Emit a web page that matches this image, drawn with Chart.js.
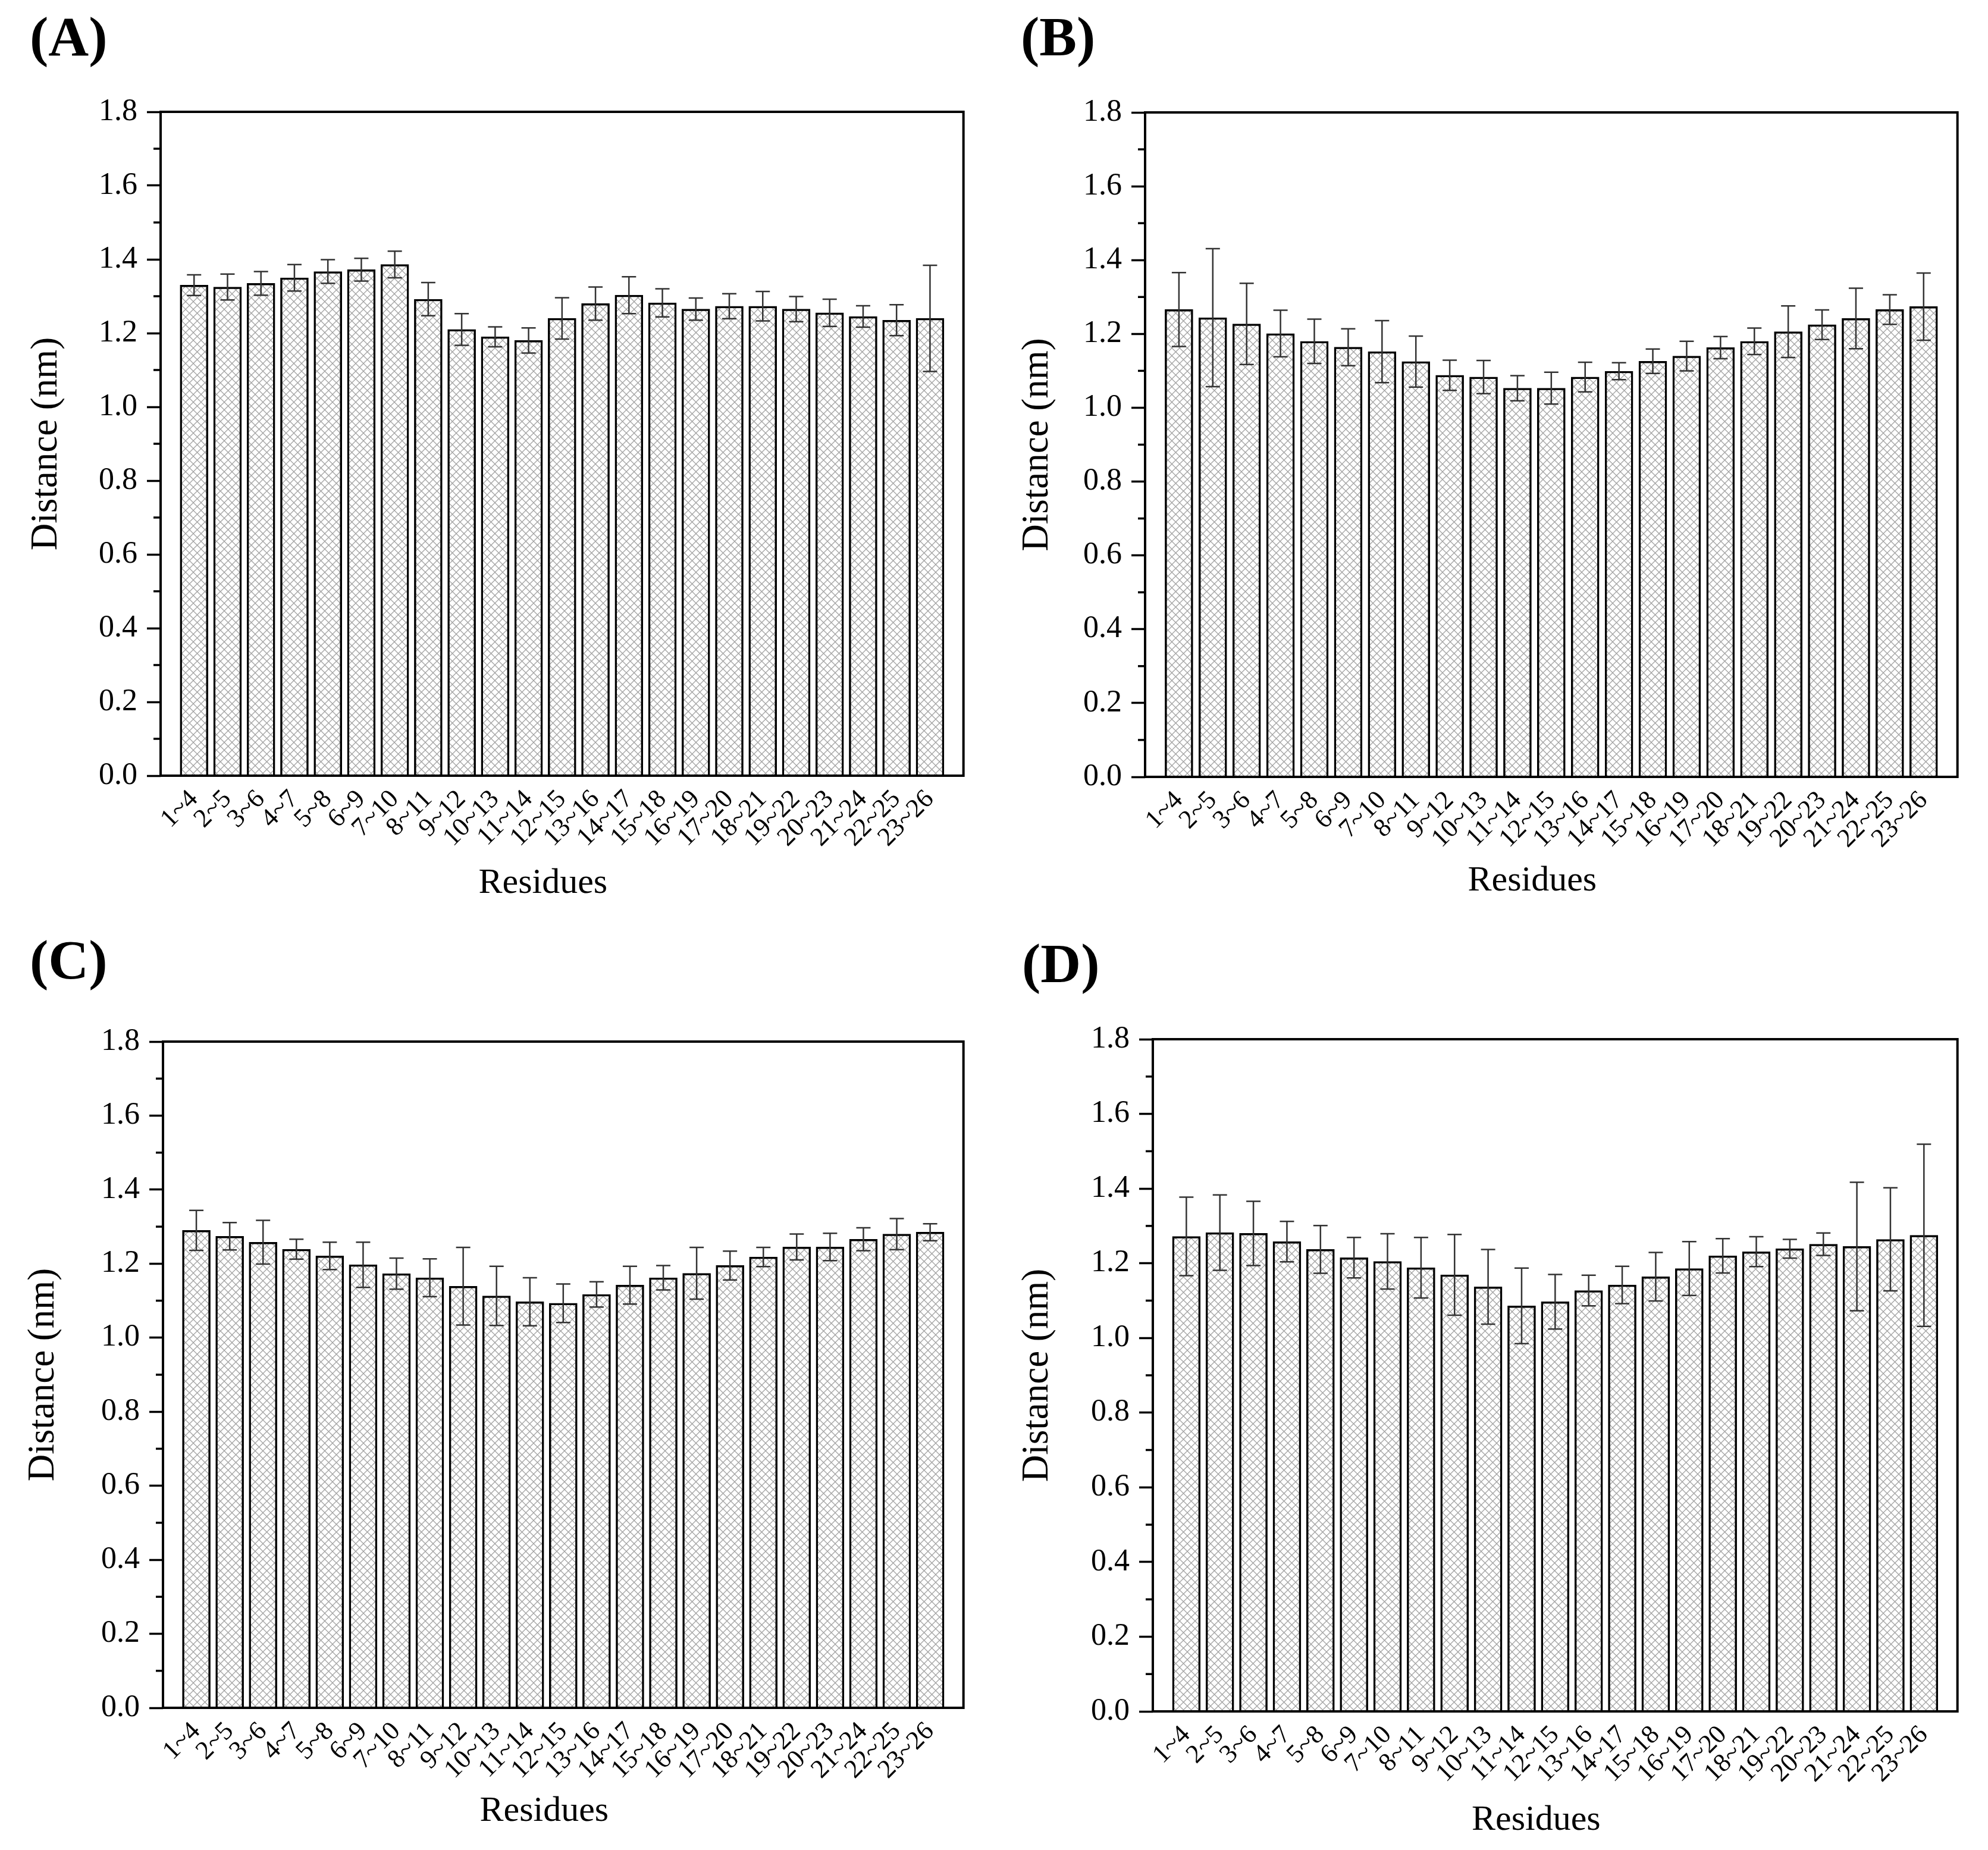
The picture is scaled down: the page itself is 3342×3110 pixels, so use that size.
<!DOCTYPE html>
<html>
<head>
<meta charset="utf-8">
<title>Distance per residue window</title>
<script src="https://cdn.jsdelivr.net/npm/chart.js"></script>
<style>
  body { margin: 0; background: #fff; }
  #wrap { position: relative; width: 3342px; height: 3110px; }
  canvas { position: absolute; }
  .tag { position: absolute; font: bold 94px "Liberation Serif", serif; line-height: 94px; color: #000; }
</style>
</head>
<body>
<div id="wrap">
  <div class="tag" style="left:50px;top:14px">(A)</div>
  <div class="tag" style="left:1716px;top:14px">(B)</div>
  <div class="tag" style="left:50px;top:1566px">(C)</div>
  <div class="tag" style="left:1718px;top:1572px">(D)</div>
  <canvas id="chartA" width="1671" height="1555" style="left:0;top:0"></canvas>
  <canvas id="chartB" width="1671" height="1555" style="left:1671px;top:0"></canvas>
  <canvas id="chartC" width="1671" height="1555" style="left:0;top:1555px"></canvas>
  <canvas id="chartD" width="1671" height="1555" style="left:1671px;top:1555px"></canvas>
</div>
<script>
// residue windows on the x axis
const residues = ['1~4','2~5','3~6','4~7','5~8','6~9','7~10','8~11','9~12','10~13','11~14','12~15',
                  '13~16','14~17','15~18','16~19','17~20','18~21','19~22','20~23','21~24','22~25','23~26'];

// mean distance (nm) and error for each panel
const distA = [1.330,1.325,1.335,1.350,1.367,1.372,1.386,1.292,1.210,1.190,1.180,1.240,1.280,1.303,1.282,1.265,1.273,1.273,1.265,1.255,1.245,1.235,1.240];
const errA  = [0.028,0.035,0.032,0.036,0.032,0.031,0.036,0.045,0.043,0.027,0.034,0.056,0.045,0.050,0.038,0.030,0.034,0.040,0.034,0.037,0.029,0.042,0.144];

const distB = [1.266,1.244,1.227,1.201,1.180,1.164,1.152,1.125,1.088,1.083,1.053,1.053,1.083,1.099,1.126,1.140,1.163,1.180,1.206,1.225,1.242,1.266,1.274];
const errB  = [0.100,0.187,0.110,0.063,0.060,0.050,0.084,0.069,0.041,0.045,0.034,0.043,0.040,0.023,0.033,0.040,0.030,0.036,0.070,0.040,0.082,0.040,0.091];

const distC = [1.290,1.274,1.258,1.239,1.221,1.197,1.173,1.162,1.139,1.113,1.097,1.093,1.117,1.142,1.162,1.174,1.195,1.218,1.245,1.245,1.266,1.280,1.285];
const errC  = [0.054,0.037,0.059,0.027,0.037,0.061,0.042,0.051,0.105,0.080,0.065,0.052,0.034,0.051,0.033,0.070,0.039,0.026,0.035,0.037,0.031,0.042,0.023];

const distD = [1.272,1.282,1.280,1.258,1.237,1.215,1.205,1.188,1.169,1.137,1.086,1.097,1.127,1.142,1.164,1.186,1.220,1.231,1.239,1.251,1.245,1.264,1.275];
const errD  = [0.105,0.101,0.086,0.054,0.064,0.054,0.074,0.081,0.108,0.100,0.101,0.073,0.041,0.050,0.065,0.072,0.046,0.040,0.025,0.030,0.172,0.138,0.244];

const yTicks = [0, 0.2, 0.4, 0.6, 0.8, 1.0, 1.2, 1.4, 1.6, 1.8];

Chart.defaults.font.family = '"Liberation Serif", "Times New Roman", serif';
Chart.defaults.color = '#000';

// cross hatch fill like the origin plot
function hatch(ctx) {
  const t = document.createElement('canvas');
  t.width = 13; t.height = 13;
  const g = t.getContext('2d');
  g.fillStyle = '#fff';
  g.fillRect(0, 0, 13, 13);
  g.strokeStyle = '#a3a3a3';
  g.lineWidth = 1.3;
  g.beginPath();
  g.moveTo(-2, -2); g.lineTo(15, 15);
  g.moveTo(15, -2); g.lineTo(-2, 15);
  g.stroke();
  return ctx.createPattern(t, 'repeat');
}

// error bars, minor ticks, x title and the box around the plot
const extras = {
  id: 'extras',
  afterDatasetsDraw(chart) {
    const ctx = chart.ctx;
    const y = chart.scales.y;
    const ds = chart.data.datasets[0];
    const meta = chart.getDatasetMeta(0);
    ctx.save();
    ctx.strokeStyle = '#333';
    ctx.lineWidth = 2.5;
    meta.data.forEach((bar, i) => {
      const v = ds.data[i], e = ds.errs[i];
      if (v == null) return;
      const hi = y.getPixelForValue(v + e), lo = y.getPixelForValue(v - e);
      ctx.beginPath();
      ctx.moveTo(bar.x, hi); ctx.lineTo(bar.x, lo);
      ctx.moveTo(bar.x - 12, hi); ctx.lineTo(bar.x + 12, hi);
      ctx.moveTo(bar.x - 12, lo); ctx.lineTo(bar.x + 12, lo);
      ctx.stroke();
    });
    ctx.restore();
  },
  afterDraw(chart, args, opts) {
    const ctx = chart.ctx;
    const a = chart.chartArea;
    const y = chart.scales.y;
    ctx.save();
    ctx.strokeStyle = '#000';
    ctx.lineWidth = 3.5;
    for (let k = 0; k < yTicks.length - 1; k++) {
      const py = y.getPixelForValue((yTicks[k] + yTicks[k + 1]) / 2);
      ctx.beginPath();
      ctx.moveTo(a.left - 12, py); ctx.lineTo(a.left, py);
      ctx.stroke();
    }
    ctx.lineWidth = 4;
    ctx.strokeRect(a.left, a.top, a.right - a.left, a.bottom - a.top);
    // x axis title sits a little left of the centre, as in the original
    ctx.fillStyle = '#000';
    ctx.font = '60px "Liberation Serif", serif';
    ctx.textAlign = 'center';
    ctx.textBaseline = 'middle';
    ctx.fillText('Residues', (a.left + a.right) / 2 - 32, opts.titleY);
    ctx.restore();
  }
};

function makeChart(p) {
  const ctx = document.getElementById(p.id).getContext('2d');
  return new Chart(ctx, {
    type: 'bar',
    data: {
      labels: ['', ...residues, ''],
      datasets: [{
        data: [null, ...p.dist, null],
        errs: [null, ...p.err, null],
        backgroundColor: hatch(ctx),
        borderColor: '#000',
        borderWidth: 3.5,
        barThickness: 47
      }]
    },
    options: {
      responsive: false,
      animation: false,
      layout: { padding: { left: 0, top: p.top, right: p.right, bottom: 0 } },
      plugins: { legend: { display: false }, tooltip: { enabled: false }, extras: { titleY: p.titleY } },
      scales: {
        x: {
          offset: false,
          grid: { display: false, drawTicks: false },
          border: { display: false },
          ticks: { autoSkip: false, maxRotation: 45, minRotation: 45, padding: 14, font: { size: 44 } },
          afterFit(s) { s.height = p.xh; }
        },
        y: {
          min: 0, max: 1.8,
          afterBuildTicks(s) { s.ticks = yTicks.map(v => ({ value: v })); },
          ticks: { padding: 16, font: { size: 52 }, callback: v => v.toFixed(1) },
          grid: { drawOnChartArea: false, tickLength: 23, tickWidth: 3.5, tickColor: '#000' },
          border: { display: false },
          title: { display: true, text: 'Distance (nm)', font: { size: 63 }, padding: { top: p.yPad, bottom: 0 } },
          afterFit(s) { s.width = p.yw; }
        }
      }
    },
    plugins: [extras]
  });
}

makeChart({ id: 'chartA', dist: distA, err: errA, yw: 270, top: 188, right: 43, xh: 251, titleY: 1485, yPad: 41 });
makeChart({ id: 'chartB', dist: distB, err: errB, yw: 254, top: 189, right: 40, xh: 249, titleY: 1481, yPad: 36 });
makeChart({ id: 'chartC', dist: distC, err: errC, yw: 274, top: 196, right: 34, xh: 239, titleY: 1490, yPad: 36 });
makeChart({ id: 'chartD', dist: distD, err: errD, yw: 267, top: 192, right: 44, xh: 233, titleY: 1505, yPad: 36 });
</script>
</body>
</html>
